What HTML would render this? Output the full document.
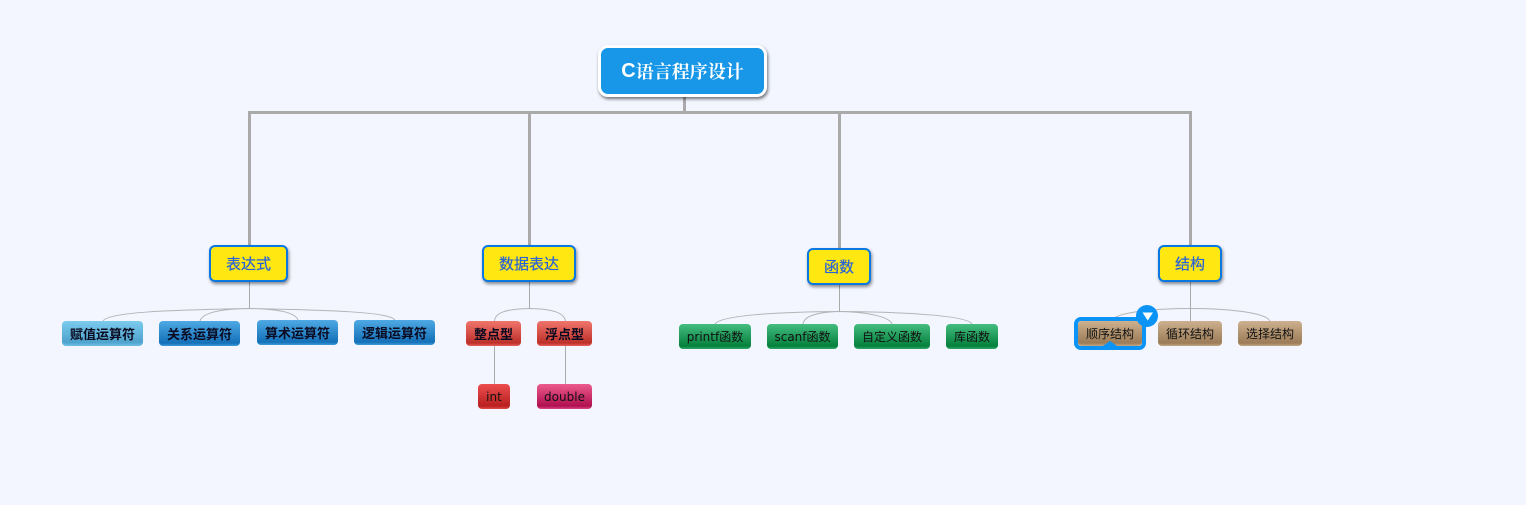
<!DOCTYPE html>
<html lang="zh">
<head>
<meta charset="utf-8">
<style>
html,body{margin:0;padding:0;width:1526px;height:505px;overflow:hidden;background:#f3f6ff;}
body{position:relative;font-family:"Liberation Sans","WenQuanYi Zen Hei","Noto Sans CJK SC",sans-serif;}
svg{position:absolute;left:0;top:0;}
.n{position:absolute;box-sizing:border-box;display:flex;align-items:center;justify-content:center;white-space:nowrap;}
.root{left:598px;top:45px;width:169px;height:52px;background:#1897e8;border:3px solid #fff;border-radius:10px;color:#fff;font-size:18px;font-weight:bold;font-family:"Liberation Sans","Noto Serif CJK SC",serif;box-shadow:1px 2px 3px rgba(0,0,0,.55);}
.root span{font-size:20px;}
.y{background:#ffe811;border:2px solid #0a78e0;border-radius:6px;color:#2a62d8;font-size:15px;top:245px;height:37px;box-shadow:1px 2px 3px rgba(0,0,0,.45);text-shadow:0 0 .6px #2a62d8;}
.l{height:25px;border-radius:4px;font-size:12px;color:#111;}
.b{font-weight:bold;color:#0a0a20;font-size:13px;}
.sky{background:linear-gradient(#7ccbee,#4ea3cc 85%,#6fc0e6);}
.blue{background:linear-gradient(#4ea9e4,#1470b8 88%,#3e9ad8);}
.red{background:linear-gradient(#f0756c,#bd3029 88%,#e85f5a);}
.red2{background:linear-gradient(#ec4d4d,#b92020 88%,#e24848);}
.pink{background:linear-gradient(#ec5a8c,#b01050 88%,#dc4880);}
.green{background:linear-gradient(#44bd80,#05803c 88%,#2fa868);}
.tan{background:linear-gradient(#cdb08e,#9c7c58 88%,#c4a682);}
</style>
</head>
<body>
<svg width="1526" height="505" fill="none">
<g stroke="#aaaaaa" stroke-width="3">
<path d="M249.5 245V112.5H1190.5V245M529.5 112.5V245M839.5 112.5V248"/>
<path d="M684.5 97V112.5" />
</g>
<g stroke="#aaaaaa" stroke-width="1">
<path d="M249.5 282V308.5M529.5 282V308.5M839.5 285V311.5M1190.5 282V321M494.5 346V384M565.5 346V384"/>
</g>
<g stroke="#b4b4b8" stroke-width="1">
<path d="M249.5 308.5C170 310 108 312 103 321M249.5 308.5C215 309 202 314 200 321M249.5 308.5C285 309 296 314 298 320M249.5 308.5C330 310 390 312 395 320"/>
<path d="M529.5 308.5C505 309 495 313 494.5 321M529.5 308.5C554 309 564 313 565.5 321"/>
<path d="M839.5 311.5C770 312 720 316 715 324M839.5 311.5C815 312 804 317 803 324M839.5 311.5C868 312 890 317 892 324M839.5 311.5C910 312 968 316 972 324"/>
<path d="M1190.5 308.5C1160 308.5 1118 311 1110 321M1190.5 308.5C1225 308.5 1265 312 1270 321"/>
</g>
</svg>

<div class="n root"><span>C</span>语言程序设计</div>

<div class="n y" style="left:209px;width:79px;">表达式</div>
<div class="n y" style="left:482px;width:94px;">数据表达</div>
<div class="n y" style="left:807px;width:64px;top:248px;">函数</div>
<div class="n y" style="left:1158px;width:64px;">结构</div>

<div class="n l b sky" style="left:62px;top:321px;width:81px;">赋值运算符</div>
<div class="n l b blue" style="left:159px;top:321px;width:81px;">关系运算符</div>
<div class="n l b blue" style="left:257px;top:320px;width:81px;">算术运算符</div>
<div class="n l b blue" style="left:354px;top:320px;width:81px;">逻辑运算符</div>

<div class="n l b red" style="left:466px;top:321px;width:55px;">整点型</div>
<div class="n l b red" style="left:537px;top:321px;width:55px;">浮点型</div>
<div class="n l red2" style="left:478px;top:384px;width:32px;font-family:'DejaVu Sans',sans-serif;font-size:12px;">int</div>
<div class="n l pink" style="left:537px;top:384px;width:55px;font-family:'DejaVu Sans',sans-serif;font-size:12px;">double</div>

<div class="n l green" style="left:679px;top:324px;width:72px;font-family:'DejaVu Sans','WenQuanYi Zen Hei',sans-serif;font-size:12px;">printf函数</div>
<div class="n l green" style="left:767px;top:324px;width:71px;font-family:'DejaVu Sans','WenQuanYi Zen Hei',sans-serif;font-size:12px;">scanf函数</div>
<div class="n l green" style="left:854px;top:324px;width:76px;">自定义函数</div>
<div class="n l green" style="left:946px;top:324px;width:52px;">库函数</div>

<div style="position:absolute;left:1074px;top:317px;width:72px;height:33px;box-sizing:border-box;border:4px solid #0b93f6;border-radius:7px;"></div>
<div class="n l tan" style="left:1078px;top:321px;width:64px;">顺序结构</div>
<div class="n l tan" style="left:1158px;top:321px;width:64px;">循环结构</div>
<div class="n l tan" style="left:1238px;top:321px;width:64px;">选择结构</div>

<svg width="1526" height="505">
<circle cx="1147" cy="316" r="11" fill="#0b93f6"/>
<path d="M1142.5 312.5H1153L1147.7 320.5Z" fill="#fff"/>
<path d="M1103 346L1110 341L1117 346Z" fill="#0b93f6"/>
</svg>
</body>
</html>
